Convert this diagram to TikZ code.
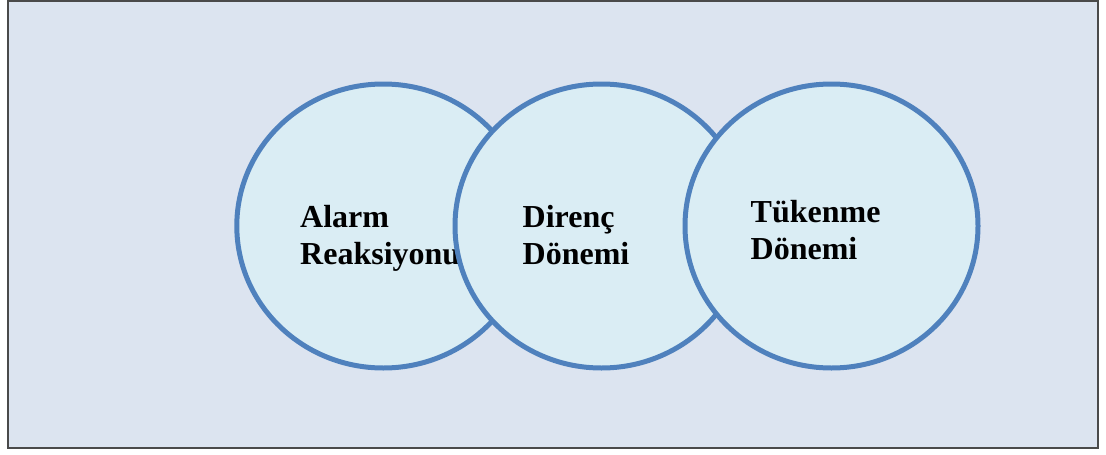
\documentclass[tikz,border=0pt]{standalone}
\usepackage{fontspec}
\setmainfont{Liberation Serif}
\definecolor{bgfill}{HTML}{DCE4F0}
\definecolor{cfill}{HTML}{DAEDF4}
\definecolor{cline}{HTML}{4F81BD}
\definecolor{frame}{HTML}{4A4A4A}
\begin{document}
\begin{tikzpicture}[x=1pt,y=-1pt,
  phase/.style={draw=cline,fill=cfill,line width=5pt},
  lbl/.style={anchor=base west,inner sep=0pt,font=\fontsize{32}{37}\selectfont\bfseries}]
\useasboundingbox (0,0) rectangle (1106,455);
\draw[fill=bgfill,draw=frame,line width=2pt] (8,1) rectangle (1098,448);
\draw[phase] (383.3,226) ellipse [x radius=146.5, y radius=142];
\node[lbl] (a1) at (300,227) {Alarm};
\node[lbl] (a2) at (300,264) {Reaksiyonu};
\draw[phase] (601.5,226) ellipse [x radius=146.5, y radius=142];
\node[lbl] (b1) at (522.5,227) {Direnç};
\node[lbl] (b2) at (522.5,264) {Dönemi};
\draw[phase] (831.5,226) ellipse [x radius=146.5, y radius=142];
\node[lbl] (c1) at (750.5,222) {Tükenme};
\node[lbl] (c2) at (750.5,259) {Dönemi};
\end{tikzpicture}
\end{document}
